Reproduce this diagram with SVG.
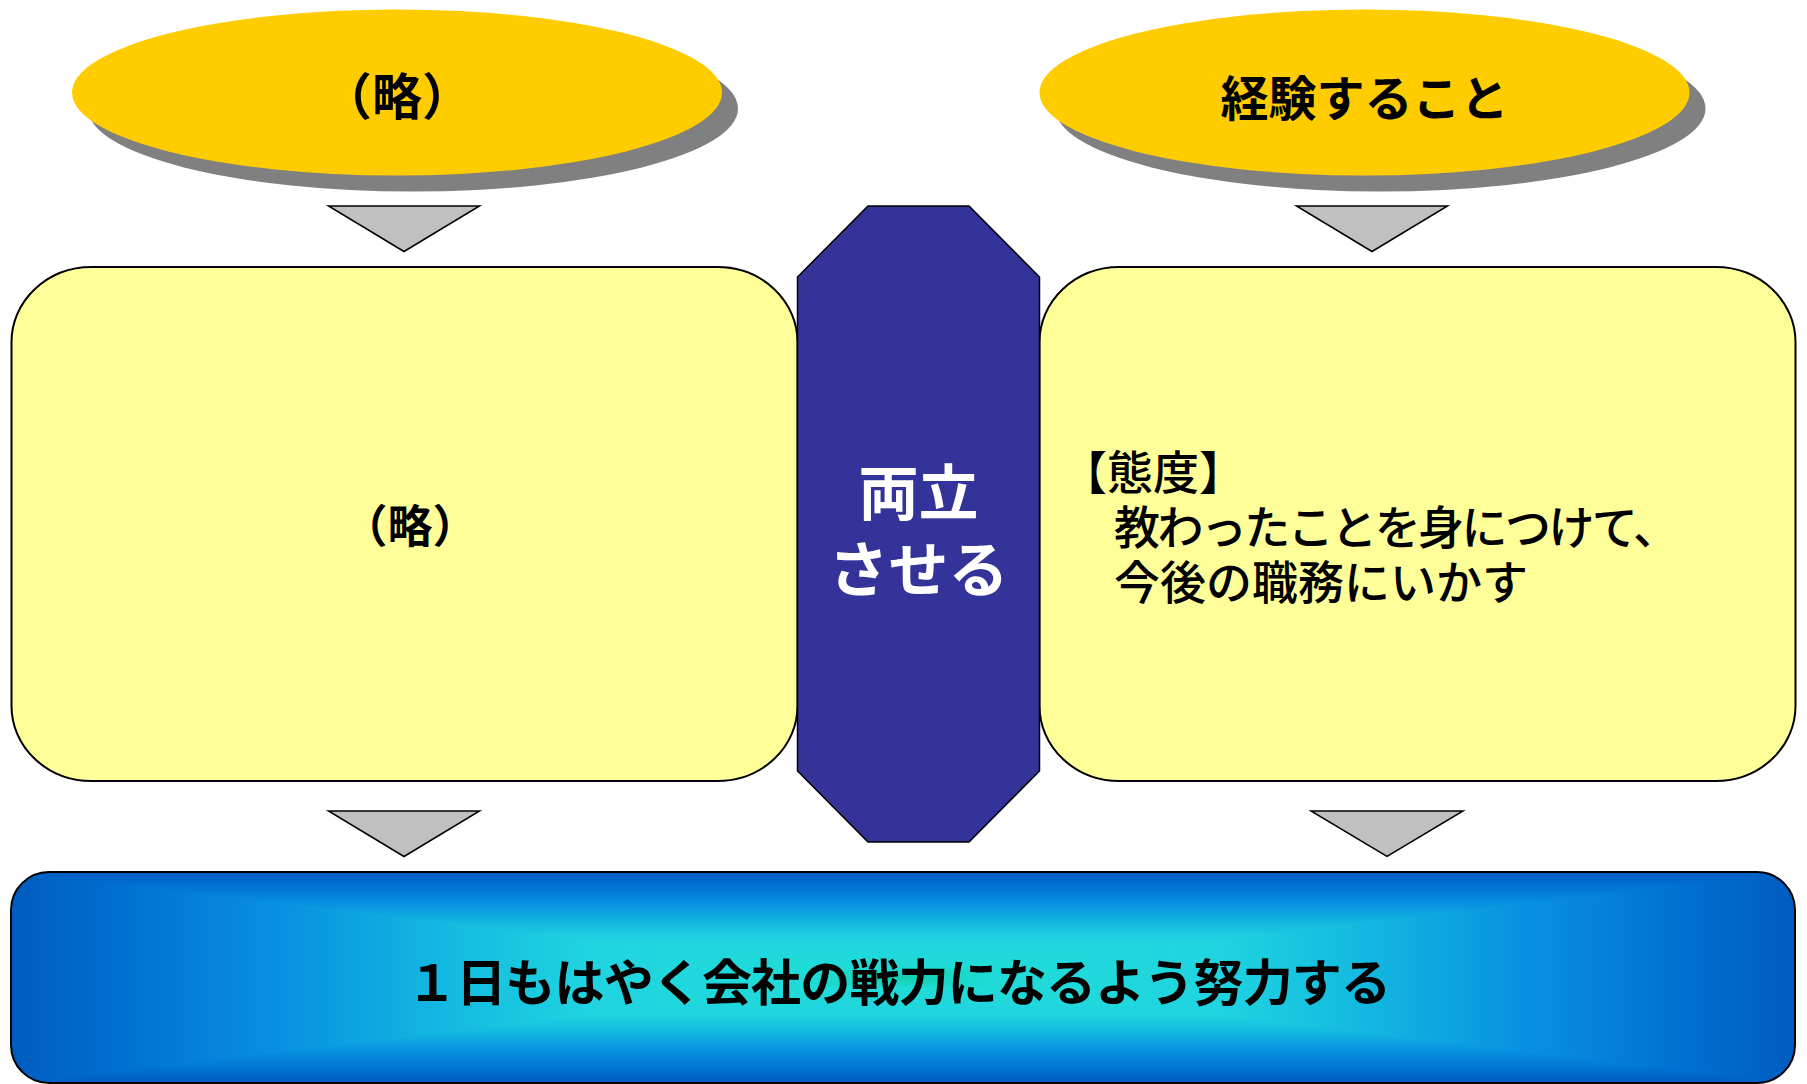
<svg xmlns="http://www.w3.org/2000/svg" width="1807" height="1084" viewBox="0 0 1807 1084">
<style>
.t{font-family:"Noto Sans CJK JP","Noto Sans",sans-serif;font-weight:bold;fill:#000}
.tw{font-family:"Noto Sans CJK JP","Noto Sans",sans-serif;font-weight:bold;fill:#fff}
.tr{font-family:"Noto Sans CJK JP","Noto Sans",sans-serif;font-weight:500;fill:#000}
.ell{fill:#FFCC00}
.shd{fill:#808080}
.box{fill:#FFFF99;stroke:#000;stroke-width:2}
.tri{fill:#C0C0C0;stroke:#000;stroke-width:1.5;stroke-linejoin:miter}
.seg{stroke-width:2;stroke-linejoin:round}
</style>
<defs>
<linearGradient id="gTop" gradientUnits="userSpaceOnUse" x1="0" y1="872" x2="0" y2="977.5">
<stop offset="0" stop-color="#005CC0"/><stop offset="0.12" stop-color="#0070D0"/><stop offset="0.3" stop-color="#0890E0"/><stop offset="0.5" stop-color="#14BCE0"/><stop offset="0.65" stop-color="#20D4E0"/><stop offset="0.9" stop-color="#20DCD8"/><stop offset="1" stop-color="#10D0B0"/>
</linearGradient>
<linearGradient id="gBot" gradientUnits="userSpaceOnUse" x1="0" y1="1083" x2="0" y2="977.5">
<stop offset="0" stop-color="#005CC0"/><stop offset="0.12" stop-color="#0070D0"/><stop offset="0.3" stop-color="#0890E0"/><stop offset="0.5" stop-color="#14BCE0"/><stop offset="0.65" stop-color="#20D4E0"/><stop offset="0.9" stop-color="#20DCD8"/><stop offset="1" stop-color="#10D0B0"/>
</linearGradient>
<linearGradient id="gLeft" gradientUnits="userSpaceOnUse" x1="11" y1="0" x2="903" y2="0">
<stop offset="0" stop-color="#005CC0"/><stop offset="0.12" stop-color="#0070D0"/><stop offset="0.3" stop-color="#0890E0"/><stop offset="0.5" stop-color="#14BCE0"/><stop offset="0.65" stop-color="#20D4E0"/><stop offset="0.9" stop-color="#20DCD8"/><stop offset="1" stop-color="#10D0B0"/>
</linearGradient>
<linearGradient id="gRight" gradientUnits="userSpaceOnUse" x1="1795" y1="0" x2="903" y2="0">
<stop offset="0" stop-color="#005CC0"/><stop offset="0.12" stop-color="#0070D0"/><stop offset="0.3" stop-color="#0890E0"/><stop offset="0.5" stop-color="#14BCE0"/><stop offset="0.65" stop-color="#20D4E0"/><stop offset="0.9" stop-color="#20DCD8"/><stop offset="1" stop-color="#10D0B0"/>
</linearGradient>
<clipPath id="barClip"><rect x="11" y="872" width="1784" height="211" rx="38" ry="38"/></clipPath>
</defs>

<g id="ellipse-left">
<ellipse class="shd" cx="413" cy="108.5" rx="325" ry="83"/>
<ellipse class="ell" cx="397" cy="92.5" rx="325" ry="83"/>
<text class="t" x="397" y="115" font-size="50" text-anchor="middle">（略）</text>
</g>

<g id="ellipse-right">
<ellipse class="shd" cx="1380.5" cy="108.5" rx="325" ry="83"/>
<ellipse class="ell" cx="1364.5" cy="92.5" rx="325" ry="83"/>
<text class="t" x="1364.5" y="116" font-size="48" text-anchor="middle">経験すること</text>
</g>

<g id="box-left">
<rect class="box" x="11.5" y="267" width="786" height="514" rx="80" ry="75"/>
<text class="t" x="410" y="543" font-size="45" text-anchor="middle">（略）</text>
</g>

<g id="box-right">
<rect class="box" x="1039.5" y="267" width="756" height="514" rx="80" ry="75"/>
<text class="tr" font-size="46">
<tspan x="1061" y="489">【態度】</tspan>
<tspan x="1114" y="544" textLength="565" lengthAdjust="spacing">教わったことを身につけて、</tspan>
<tspan x="1114" y="599">今後の職務にいかす</tspan>
</text>
</g>

<g id="octagon">
<polygon points="868,206 969,206 1039.5,277 1039.5,771 969,842 868,842 797.5,771 797.5,277" fill="#333399" stroke="#000" stroke-width="1.5"/>
<text class="tw" x="918.5" y="515" font-size="60" text-anchor="middle">両立</text>
<text class="tw" x="918.5" y="592" font-size="60" text-anchor="middle">させる</text>
</g>

<g id="bar">
<g clip-path="url(#barClip)">
<polygon class="seg" points="11,872 11,1083 903,977.5" fill="url(#gLeft)" stroke="url(#gLeft)"/>
<polygon class="seg" points="1795,872 1795,1083 903,977.5" fill="url(#gRight)" stroke="url(#gRight)"/>
<polygon class="seg" points="11,872 1795,872 903,977.5" fill="url(#gTop)" stroke="url(#gTop)"/>
<polygon class="seg" points="11,1083 1795,1083 903,977.5" fill="url(#gBot)" stroke="url(#gBot)"/>
</g>
<rect x="11" y="872" width="1784" height="211" rx="38" ry="38" fill="none" stroke="#000" stroke-width="2"/>
<text class="t" x="407" y="1001" font-size="50" textLength="984" lengthAdjust="spacing">１日もはやく会社の戦力になるよう努力する</text>
</g>

<g id="connectors">
<polygon class="tri" points="328.5,206 479.5,206 404,251.5"/>
<polygon class="tri" points="1296.5,206 1447.5,206 1372,251.5"/>
<polygon class="tri" points="328.5,811 479.5,811 404,856.5"/>
<polygon class="tri" points="1311,811 1463,811 1387,856.5"/>
</g>
</svg>
